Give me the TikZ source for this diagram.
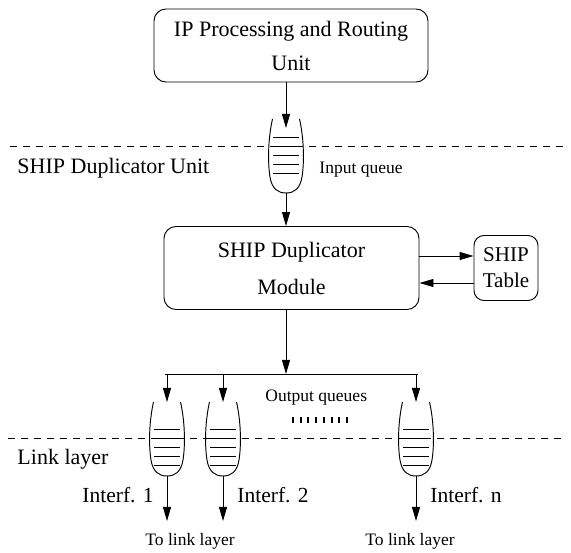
\documentclass[tikz,border=0pt]{standalone}
\usepackage{fontspec}
\setmainfont{Liberation Serif}
\usetikzlibrary{arrows.meta,calc}
\begin{document}
\begin{tikzpicture}[x=1pt,y=-1pt, line width=0.95pt,
  box/.style={draw, rounded corners=12pt, align=center, inner sep=0pt},
  arr/.style={-{Triangle[length=14pt,width=8pt]}},
  dashline/.style={dash pattern=on 7pt off 6pt, line width=0.9pt},
  big/.style={font=\fontsize{22}{26}\selectfont},
  small/.style={font=\fontsize{17.5}{20}\selectfont},
  lbl/.style={anchor=base west, inner sep=0pt},
  pics/queue/.style={code={
    \draw (-13.5,0) .. controls (-18.5,22) and (-18,46) .. (-16,58)
      .. controls (-14,70) and (-8,74) .. (0,74)
      .. controls (8,74) and (14,70) .. (16,58)
      .. controls (18,46) and (18.5,22) .. (13.5,0);
    \foreach \k in {0,1,2,3,4} \draw (-13,{#1+9.2*\k}) -- (13,{#1+9.2*\k});
  }}
]
\useasboundingbox (0,0) rectangle (571,553);

% boxes
\node[box, minimum width=274pt, minimum height=73pt, font=\fontsize{22}{34}\selectfont] (ip) at (291,45.5) {IP Processing and Routing\\Unit};
\node[box, minimum width=255pt, minimum height=83pt, font=\fontsize{22}{37}\selectfont] (mod) at (291.5,268) {SHIP Duplicator\\Module};
\node[box, rounded corners=10pt, minimum width=64pt, minimum height=65pt, font=\fontsize{21}{26}\selectfont] (tab) at (506,268) {SHIP\\Table};

% dashed separators
\draw[dashline] (10,146) -- (567,146);
\draw[dashline] (8,438.5) -- (567,438.5);

% queues
\coordinate (qin) at (286,119);
\coordinate (q1) at (167,402);
\coordinate (q2) at (223,402);
\coordinate (qn) at (416,402);
\pic at (qin) {queue=18};
\pic at (q1) {queue=27};
\pic at (q2) {queue=27};
\pic at (qn) {queue=27};

% input path
\coordinate (qinin) at (286,128);
\coordinate (qinb) at (286,193);
\draw[arr] (ip.south -| qin) -- (qinin);
\draw[arr] (qinb) -- (mod.north -| qinb);

% table
\draw[arr] ($(mod.east)+(0,-12)$) -- ($(tab.west)+(0,-12)$);
\draw[arr] ($(tab.west)+(0,15)$) -- ($(mod.east)+(0,15)$);

% bus
\coordinate (bus) at (286,374);
\coordinate (busl) at (165,374);
\coordinate (busr) at (418,374);
\draw[arr] (mod.south -| qin) -- (bus);
\draw (busl) -- (busr);
\draw[arr] (bus -| q1) -- (q1);
\draw[arr] (bus -| q2) -- (q2);
\draw[arr] (bus -| qn) -- (qn);

% outputs
\coordinate (q1b) at (167,476);
\coordinate (q2b) at (223,476);
\coordinate (qnb) at (416,476);
\coordinate (o1) at (167,521);
\coordinate (o2) at (223,521);
\coordinate (on) at (416,521);
\draw[arr] (q1b) -- (o1);
\draw[arr] (q2b) -- (o2);
\draw[arr] (qnb) -- (on);

% dots between queues
\foreach \i in {0,...,7} \draw[line width=2pt] ({293+7.7*\i},417) -- ++(0,6);

% labels
\node[lbl, big] (lsdu) at (17,174) {SHIP Duplicator Unit};
\node[lbl, big] (lll) at (17,465) {Link layer};
\node[lbl, small] (liq) at (319,174) {Input queue};
\node[lbl, small] (loq) at (265,402) {Output queues};
\node[lbl, font=\fontsize{21.5}{26}\selectfont] (li1) at (82,503) {Interf. 1};
\node[lbl, font=\fontsize{21.5}{26}\selectfont] (li2) at (237,503) {Interf. 2};
\node[lbl, font=\fontsize{21.5}{26}\selectfont] (lin) at (430,503) {Interf. n};
\node[lbl, small] (lt1) at (145,545) {To link layer};
\node[lbl, small] (ltn) at (365,545) {To link layer};
\end{tikzpicture}
\end{document}
